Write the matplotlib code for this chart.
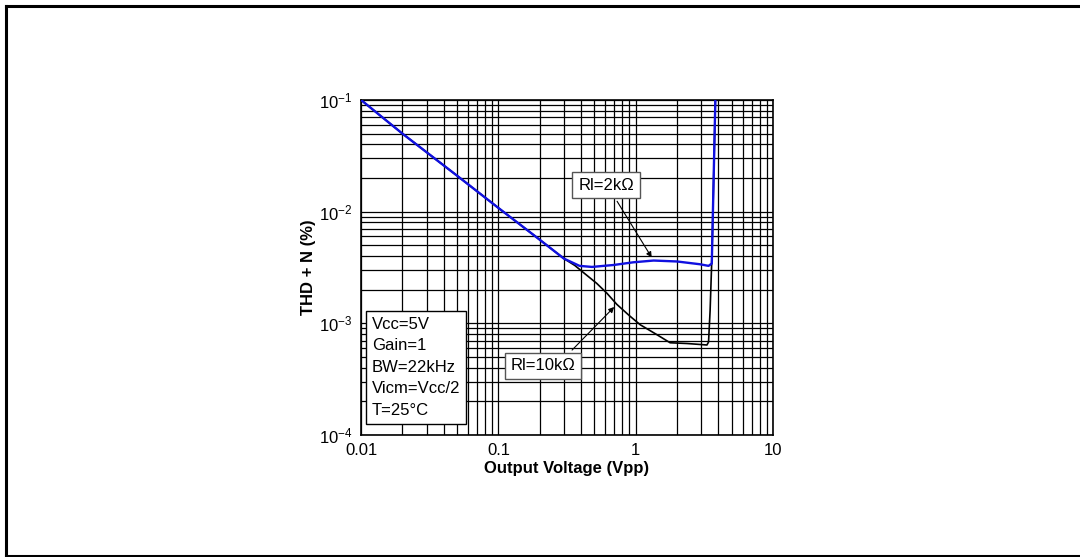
import numpy as np
import matplotlib
matplotlib.use("Agg")
import matplotlib.pyplot as plt
from matplotlib.lines import Line2D

plt.rcParams['font.family'] = ['Liberation Sans', 'DejaVu Sans']
plt.rcParams['mathtext.fontset'] = 'custom'
plt.rcParams['mathtext.rm'] = 'Liberation Sans'
plt.rcParams['mathtext.default'] = 'regular'

# Rl = 2k (blue)
v_2k = [0.01, 0.02, 0.05, 0.1, 0.18, 0.3, 0.39, 0.48, 0.69, 0.96, 1.35, 2.0,
        2.94, 3.39, 3.58, 3.65, 3.72, 3.8]
thd_2k = [0.1, 0.05, 0.021, 0.0108, 0.0062, 0.0038, 0.00327, 0.0032, 0.00333,
          0.00352, 0.00365, 0.00358, 0.00338, 0.00327, 0.00343, 0.0103, 0.03, 0.1]

# Rl = 10k (black)
v_10k = [0.01, 0.02, 0.05, 0.1, 0.18, 0.3, 0.36, 0.416, 0.52, 0.617, 0.728, 0.9,
         1.08, 1.43, 1.78, 2.36, 3.3, 3.39, 3.48, 3.58, 3.65, 3.72, 3.8]
thd_10k = [0.1, 0.05, 0.021, 0.0108, 0.0062, 0.0038, 0.0033, 0.00285, 0.00228,
           0.00186, 0.00148, 0.00117, 0.00097, 0.00079, 0.00067, 0.00066, 0.00064,
           0.00068, 0.0013, 0.0037, 0.0103, 0.03, 0.1]

conditions = ['Vcc=5V', 'Gain=1', 'BW=22kHz', 'Vicm=Vcc/2', 'T=25°C']
ytick_vals = [1e-4, 1e-3, 1e-2, 1e-1]
ytick_text = ['10$^{-4}$', '10$^{-3}$', '10$^{-2}$', '10$^{-1}$']

fig = plt.figure(figsize=(10.8, 5.57), dpi=100)
ax = fig.add_axes([0.3343, 0.219, 0.3815, 0.6015])

ax.plot(v_10k, thd_10k, color='black', lw=1.2, zorder=3)
ax.plot(v_2k, thd_2k, color='#1010e0', lw=1.7, zorder=4)

ax.set_xscale('log')
ax.set_yscale('log')
ax.set_xlim(0.01, 10)
ax.set_ylim(1e-4, 1e-1)
ax.set_xticks([0.01, 0.1, 1, 10])
ax.set_xticklabels(['0.01', '0.1', '1', '10'])
ax.set_yticks(ytick_vals)
ax.set_yticklabels(ytick_text)
ax.grid(True, which='both', color='black', lw=0.9)
ax.tick_params(which='both', length=0, labelsize=12, pad=6)
for s in ax.spines.values():
    s.set_linewidth(1.2)

ax.set_xlabel('Output Voltage (Vpp)', fontsize=12, fontweight='bold', labelpad=2)
ax.set_ylabel('THD + N (%)', fontsize=12, fontweight='bold', labelpad=2)

box = dict(boxstyle='square,pad=0.35', fc='white', ec='#555555', lw=1)
arw = dict(arrowstyle='-|>', color='black', lw=0.8, mutation_scale=8)
ax.annotate('Rl=2kΩ', xy=(1.34, 0.0037), xytext=(0.609, 0.0173),
            fontsize=12, ha='center', va='center', bbox=box,
            arrowprops=dict(arw, relpos=(0.6, 0)), zorder=5)
ax.annotate('Rl=10kΩ', xy=(0.72, 0.00146), xytext=(0.212, 0.000416),
            fontsize=12, ha='center', va='center', bbox=box,
            arrowprops=dict(arw, relpos=(0.82, 1)), zorder=5)

ax.text(0.01197, 0.000142, '\n'.join(conditions), fontsize=12, ha='left', va='bottom',
        linespacing=1.55, zorder=5,
        bbox=dict(boxstyle='square,pad=0.35', fc='white', ec='black', lw=1))

# page frame and cut-off caption at the top
fig.add_artist(Line2D([5.5 / 1080, 1.0], [1 - 5.5 / 557] * 2, color='black', lw=2.2))
fig.add_artist(Line2D([5.5 / 1080] * 2, [0, 1 - 5.5 / 557], color='black', lw=2.2))
fig.add_artist(Line2D([5.5 / 1080, 1.0], [1 / 557] * 2, color='black', lw=2.2))
fig.text(0.5, 1 + 4.5 / 557, 'Figure 12. Distortion + noise vs. output voltage (Rl = 2kΩ, 10kΩ)',
         fontsize=13, fontweight='bold', ha='center', va='baseline')

fig.savefig('out.png', dpi=100)
